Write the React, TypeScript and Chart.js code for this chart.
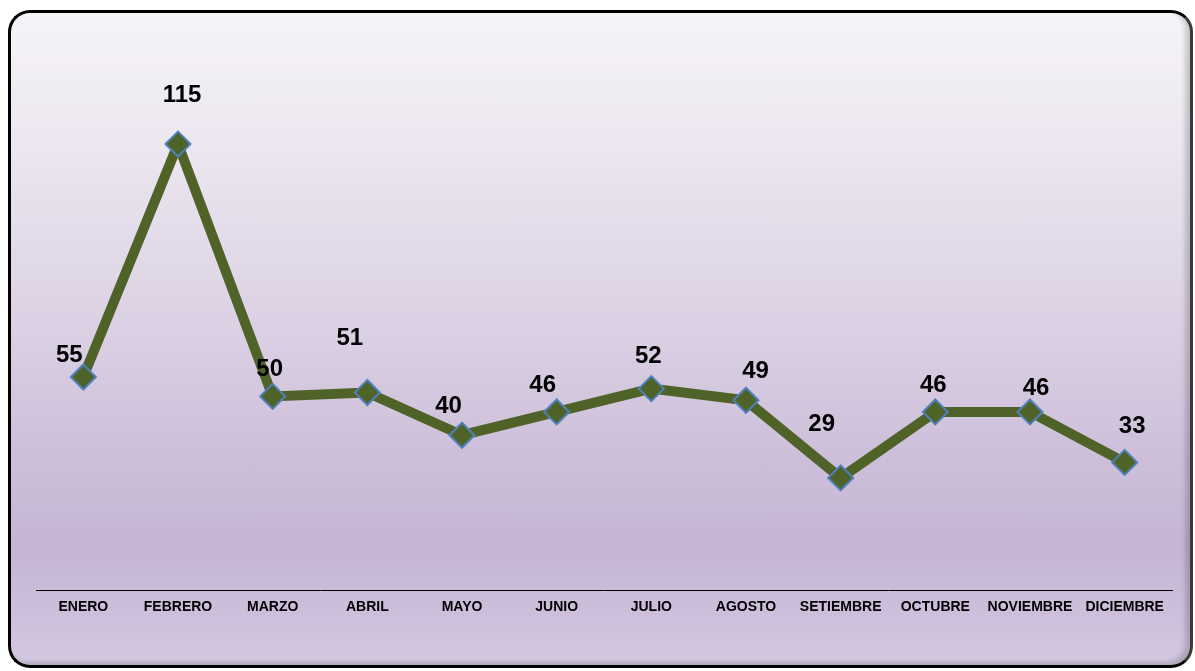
import React, { useEffect, useRef } from "react";
import { Chart, registerables } from "chart.js";

Chart.register(...registerables);

const months = [
  "ENERO", "FEBRERO", "MARZO", "ABRIL", "MAYO", "JUNIO",
  "JULIO", "AGOSTO", "SETIEMBRE", "OCTUBRE", "NOVIEMBRE", "DICIEMBRE",
];
const values = [55, 115, 50, 51, 40, 46, 52, 49, 29, 46, 46, 33];

// label offsets (style): shift of each value label from its point, in px
const labelDx = [-14, 4, -3, -17.5, -13.5, -14, -3, 9.5, -19, -2, 6, 7.5];
const labelDy = [-23, -50, -28, -55, -29.5, -28, -33, -29.7, -55, -28, -25, -37];

const FONT = "'Liberation Sans', Arial, sans-serif";

const labelPlugin = {
  id: "valueLabels",
  afterDatasetsDraw(chart: any) {
    const ctx = chart.ctx;
    const meta = chart.getDatasetMeta(0);
    ctx.save();
    ctx.font = `bold 24px ${FONT}`;
    ctx.fillStyle = "#000";
    ctx.textAlign = "center";
    ctx.textBaseline = "middle";
    meta.data.forEach((pt: any, i: number) => {
      const v = chart.data.datasets[0].data[i];
      ctx.fillText(String(v), pt.x + labelDx[i], pt.y + labelDy[i] + 1);
    });
    ctx.restore();
  },
};

export default function App() {
  const ref = useRef<HTMLCanvasElement>(null);

  useEffect(() => {
    if (!ref.current) return;
    const chart = new Chart(ref.current, {
      type: "line",
      data: {
        labels: months,
        datasets: [
          {
            data: values,
            borderColor: "#4F6228",
            borderWidth: 10,
            backgroundColor: "#4F6228",
            pointStyle: "rectRot",
            pointRadius: 12.5,
            pointHoverRadius: 12.5,
            pointBackgroundColor: "#4F6228",
            pointBorderColor: "#4F81BD",
            pointBorderWidth: 2,
            tension: 0,
            clip: false as any,
          },
        ],
      },
      options: {
        responsive: false,
        animation: false,
        layout: { padding: { left: 36, right: 23, top: 47, bottom: 0 } },
        plugins: {
          legend: { display: false },
          tooltip: { enabled: false },
        },
        scales: {
          y: {
            display: false,
            min: 0,
            max: 140,
          },
          x: {
            offset: true,
            grid: { display: false, drawTicks: false },
            border: { display: true, color: "#000", width: 1 },
            ticks: {
              autoSkip: false,
              maxRotation: 0,
              minRotation: 0,
              padding: 8,
              color: "#000",
              font: { family: FONT, size: 14, weight: "bold" },
            },
            afterFit(scale: any) {
              scale.height = 80.5;
            },
          },
        },
      },
      plugins: [labelPlugin],
    });
    return () => chart.destroy();
  }, []);

  return (
    <div
      style={{
        position: "fixed",
        left: 0,
        top: 0,
        width: 1195,
        height: 671,
        background: "#fff",
        overflow: "hidden",
      }}
    >
      <div
        style={{
          position: "absolute",
          left: 8,
          top: 10,
          width: 1185,
          height: 658,
          boxSizing: "border-box",
          border: "3px solid #000",
          borderRight: "3px solid #3a3a3a",
          borderRadius: 22,
          background:
            "linear-gradient(to bottom, #F6F4F8 0%, #ECE7F0 20%, #DDD3E5 45%, #CDBFDA 68%, #C5B5D3 82%, #CDBFDC 92%, #D4C9E0 100%)",
          boxShadow: "inset -5px -3px 5px rgba(0,0,0,0.18)",
        }}
      />
      <canvas
        ref={ref}
        width={1195}
        height={671}
        style={{ position: "absolute", left: 0, top: 0, width: 1195, height: 671 }}
      />
    </div>
  );
}
